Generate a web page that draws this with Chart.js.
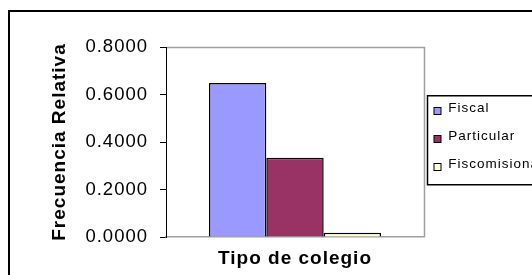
<!DOCTYPE html>
<html><head><meta charset="utf-8">
<script src="https://cdn.jsdelivr.net/npm/chart.js@4"></script>
<style>html,body{margin:0;padding:0;background:#fff;overflow:hidden}canvas{display:block}</style>
</head><body>
<canvas id="c" width="532" height="275"></canvas>
<script>
const categories = [''];
const seriesNames = ['Fiscal', 'Particular', 'Fiscomisional'];
const fiscal = [0.648];
const particular = [0.334];
const fiscomisional = [0.018];
const seriesColors = ['#9999FF', '#993366', '#FFFFCC'];
const yTickLabels = ['0.0000', '0.2000', '0.4000', '0.6000', '0.8000'];
const yTitle = 'Frecuencia Relativa';
const xTitle = 'Tipo de colegio';

function swatch(color) {
  const c = document.createElement('canvas');
  c.width = 17; c.height = 17;
  const g = c.getContext('2d');
  g.fillStyle = '#000'; g.fillRect(2, 7, 8, 8);
  g.fillStyle = color; g.fillRect(3, 8, 6, 6);
  return c;
}
const swatches = seriesColors.map(swatch);

const decor = {
  id: 'decor',
  beforeUpdate(chart) { chart.ctx.letterSpacing = '1px'; },
  afterLayout(chart) {
    const lg = chart.legend;
    if (lg) { lg.top -= 5.5; lg.bottom -= 5.5; }
  },
  beforeDraw(chart) {
    const ctx = chart.ctx;
    ctx.letterSpacing = '1px';
    ctx.save();
    ctx.strokeStyle = '#000'; ctx.lineWidth = 2;
    ctx.strokeRect(9, 11, 1000, 1000);
    ctx.restore();
  },
  beforeDatasetsDraw(chart) {
    const {left, top, right, bottom} = chart.chartArea;
    const ctx = chart.ctx;
    ctx.save();
    ctx.strokeStyle = '#a0a0a0'; ctx.lineWidth = 1.5;
    ctx.beginPath();
    ctx.moveTo(left + 1, top + 0.5);
    ctx.lineTo(right + 0.5, top + 0.5);
    ctx.lineTo(right + 0.5, bottom);
    ctx.stroke();
    ctx.restore();
  },
  afterDraw(chart) {
    const lg = chart.legend;
    if (!lg || !lg.legendHitBoxes || !lg.legendHitBoxes.length) return;
    const hb = lg.legendHitBoxes;
    const t = hb[0].top - 6;
    const b = hb[hb.length - 1].top + 27;
    const ctx = chart.ctx;
    ctx.save();
    ctx.strokeStyle = '#000'; ctx.lineWidth = 1.5;
    ctx.strokeRect(chart.chartArea.right + 3.5, t, 300, b - t);
    ctx.restore();
  }
};

Chart.defaults.font.family = "'Liberation Sans', Arial, sans-serif";
Chart.defaults.color = '#000';

new Chart(document.getElementById('c'), {
  type: 'bar',
  data: {
    labels: categories,
    datasets: [
      { label: seriesNames[0], data: fiscal, backgroundColor: seriesColors[0] },
      { label: seriesNames[1], data: particular, backgroundColor: seriesColors[1] },
      { label: seriesNames[2], data: fiscomisional, backgroundColor: seriesColors[2] }
    ]
  },
  options: {
    responsive: false,
    animation: false,
    devicePixelRatio: 1,
    layout: { padding: { top: 47, left: 0, right: 0, bottom: 0 } },
    datasets: { bar: { borderColor: '#000', borderWidth: 1.5, barPercentage: 1, categoryPercentage: 0.667 } },
    scales: {
      x: {
        ticks: { display: false },
        grid: { display: false },
        border: { color: '#a0a0a0', width: 1.5 },
        title: { display: true, text: xTitle, color: '#000', font: { size: 19, weight: 'bold' }, padding: { top: 0, bottom: 5.2 } },
        afterFit(s) { s.height = 38; }
      },
      y: {
        min: 0, max: 0.8,
        ticks: { stepSize: 0.2, padding: 12, color: '#000', font: { size: 18.5 },
          callback: (v, i) => yTickLabels[i] },
        grid: { drawOnChartArea: false, color: '#000', tickLength: 6, tickWidth: 1 },
        border: { color: '#000', width: 1 },
        title: { display: true, text: yTitle, color: '#000', font: { size: 19, weight: 'bold' }, padding: { top: 48.7, bottom: 0 } },
        afterFit(s) { s.width = 166; }
      }
    },
    plugins: {
      tooltip: { enabled: false },
      legend: {
        position: 'right',
        fullSize: false,
        maxWidth: 108,
        labels: {
          color: '#000',
          font: { size: 13.5 },
          padding: 14.5,
          boxWidth: 3,
          usePointStyle: true,
          generateLabels(chart) {
            const items = Chart.defaults.plugins.legend.labels.generateLabels(chart);
            items.forEach(it => { it.pointStyle = swatches[it.datasetIndex]; });
            return items;
          }
        }
      }
    }
  },
  plugins: [decor]
});
</script>
</body></html>
